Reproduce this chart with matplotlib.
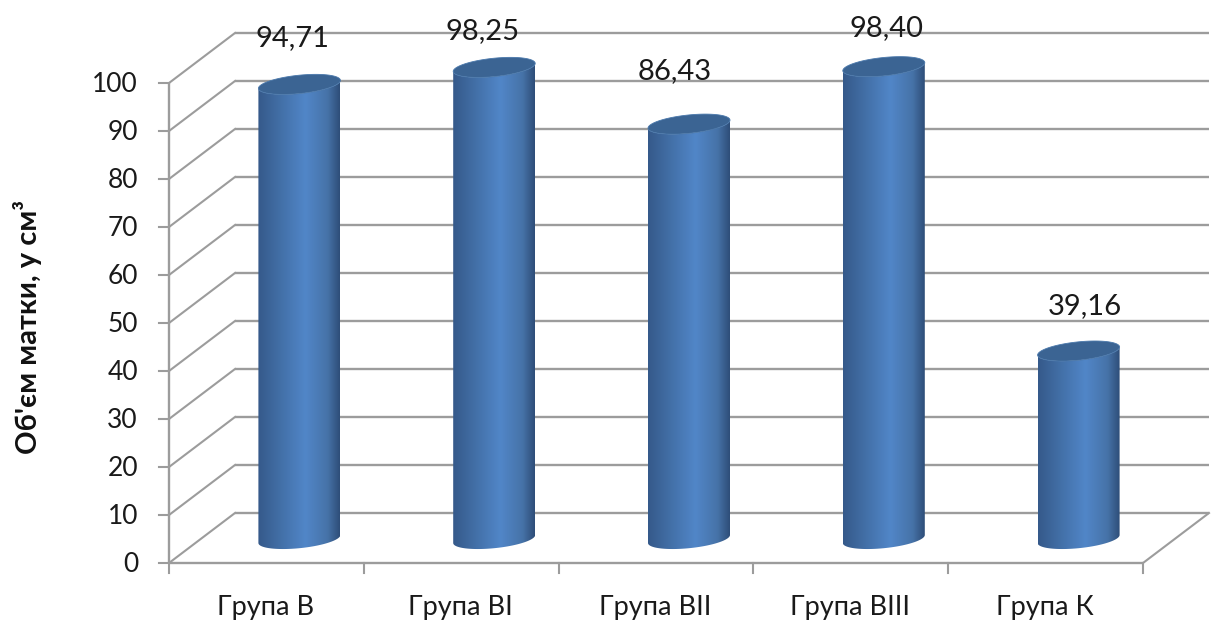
#!/usr/bin/python3
import matplotlib
matplotlib.use('Agg')
import matplotlib.pyplot as plt
import numpy as np
from matplotlib.colors import LinearSegmentedColormap
from matplotlib.patches import PathPatch
from matplotlib.path import Path
from matplotlib.transforms import Affine2D

# Dados
grupos = ['Група В', 'Група ВІ', 'Група ВІІ', 'Група ВІІІ', 'Група К']
volumes = [94.71, 98.25, 86.43, 98.40, 39.16]
rotulos = ['94,71', '98,25', '86,43', '98,40', '39,16']
y_ticks = list(range(0, 101, 10))

# Ajuste fino dos rótulos em pixels, a partir do topo de cada cilindro
rotulo_dx = [-7, -12, -14, 3, 6]
rotulo_dy = [46, 36, 53, 39, 45]

W, H = 1213, 621
COR_GRADE = '#9c9c9c'
COR_TEXTO = '#1a1a1a'
FONTE = 'Lato'

fig = plt.figure(figsize=(W / 100, H / 100), dpi=100, facecolor='white')
# Plano frontal do gráfico: x 169-1143, y 83-563 em pixels
ax = fig.add_axes([169 / W, 1 - 563 / H, (1143 - 169) / W, (563 - 83) / H])
ax.set_xlim(0, 5)
ax.set_ylim(0, 100)
ax.axis('off')

# Profundidade da caixa 3D
DX, DY = 66, 50
fundo = ax.transData + Affine2D().translate(DX, DY)
meio = ax.transData + Affine2D().translate(DX / 2, DY / 2 - 1)
px_x = (1143 - 169) / 5
px_y = (563 - 83) / 100


def linha(xs, ys, transform=None, **kw):
    ax.plot(xs, ys, transform=transform or ax.transData, color=COR_GRADE, lw=1.7,
            clip_on=False, solid_capstyle='butt', **kw)


# Grade: parede do fundo e diagonais da parede lateral
for v in y_ticks:
    linha([0, 5], [v, v], transform=fundo, zorder=1)
    x0, y0 = ax.transData.transform((0, v))
    ax.plot([x0, x0 + DX], [y0, y0 + DY], transform=None, color=COR_GRADE, lw=1.5,
            clip_on=False, zorder=1)

# Eixos e marcas
x1, y1 = ax.transData.transform((5, 0))
ax.plot([x1, x1 + DX], [y1, y1 + DY], transform=None, color=COR_GRADE, lw=1.5, clip_on=False, zorder=1)
linha([0, 0], [0, 100], zorder=2)
linha([0, 5], [0, 0], zorder=2)
for v in y_ticks:
    x0, y0 = ax.transData.transform((0, v))
    ax.plot([x0 - 10, x0], [y0, y0], transform=None, color=COR_GRADE, lw=1.5, clip_on=False, zorder=2)
    ax.text(x0 - 31, y0 - 2, str(v), transform=None, ha='right', va='center', fontsize=19,
            family=FONTE, color=COR_TEXTO)
for i in range(6):
    x0, y0 = ax.transData.transform((i, 0))
    ax.plot([x0, x0], [y0 - 10, y0], transform=None, color=COR_GRADE, lw=1.5, clip_on=False, zorder=2)
for i, g in enumerate(grupos):
    x0, y0 = ax.transData.transform((i + 0.5, 0))
    ax.text(x0 - 1, y0 - 45, g, transform=None, ha='center', va='center', fontsize=19.5,
            family=FONTE, color=COR_TEXTO)

fig.text(28 / W, 1 - 327 / H, "Об'єм матки, у см³", rotation=90, ha='center', va='center',
         fontsize=21, fontweight='bold', family=FONTE, color='#111111')

# Cilindros
cmap = LinearSegmentedColormap.from_list('cilindro', [
    (0.0, '#35598a'), (0.2, '#3f6a9f'), (0.58, '#5186c8'),
    (0.85, '#4673a8'), (1.0, '#2e4d78')])
gradiente = np.linspace(0, 1, 256).reshape(1, -1)
meia_larg = 41 / px_x
t = np.linspace(0, 2 * np.pi, 121)
t_baixo = np.linspace(np.pi, 2 * np.pi, 61)


def arco(cx, v, ang):
    return np.column_stack([cx + meia_larg * np.cos(ang),
                            v + (9.2 * np.sin(ang) + 4 * np.cos(ang)) / px_y])


for i, v in enumerate(volumes):
    cx = i + 0.5
    base = arco(cx, 0, t_baixo)
    topo = arco(cx, v, t_baixo[::-1])
    corpo = Path(np.vstack([base, topo, base[:1]]), closed=True)
    contorno = PathPatch(corpo, transform=meio, facecolor='none', edgecolor='none', clip_on=False, zorder=3)
    ax.add_patch(contorno)
    im = ax.imshow(gradiente, cmap=cmap, aspect='auto', interpolation='bilinear', zorder=3,
                   extent=(cx - meia_larg, cx + meia_larg, -4, v + 4))
    im.set_transform(meio)
    im.set_clip_path(contorno)
    im.set_clip_box(fig.bbox)
    tampa = Path(arco(cx, v, t), closed=True)
    ax.add_patch(PathPatch(tampa, transform=meio, facecolor='#3b6493', edgecolor='#4a78ab', lw=0.6,
                           clip_on=False, zorder=4))
    xt, yt = meio.transform((cx, v))
    ax.text(xt + rotulo_dx[i], yt + rotulo_dy[i], rotulos[i], transform=None, ha='center', va='center',
            fontsize=21, family=FONTE, color=COR_TEXTO, zorder=5)

ax.set_xlim(0, 5)
ax.set_ylim(0, 100)
fig.savefig('out.png', dpi=100)
